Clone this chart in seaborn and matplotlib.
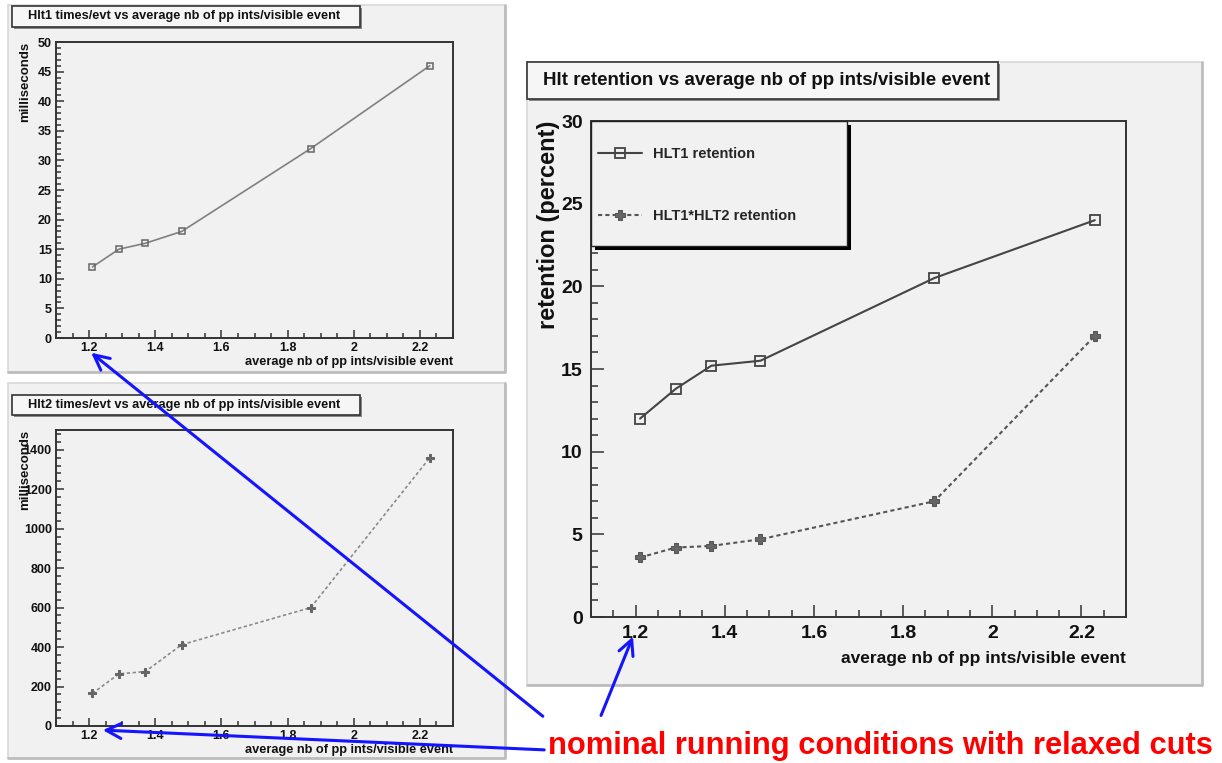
import numpy as np
import pandas as pd
import matplotlib
matplotlib.use('Agg')
import matplotlib.pyplot as plt
import seaborn as sns
from matplotlib.patches import Rectangle
from matplotlib.ticker import MultipleLocator

# data
nb_pp = [1.21, 1.29, 1.37, 1.48, 1.87, 2.23]
hlt1_ms = [12, 15, 16, 18, 32, 46]
hlt2_ms = [165, 264, 276, 412, 600, 1360]
hlt1_ret = [12.0, 13.8, 15.2, 15.5, 20.5, 24.0]
hlt12_ret = [3.6, 4.2, 4.3, 4.7, 7.0, 17.0]

xlab = 'average nb of pp ints/visible event'
title1 = 'Hlt1 times/evt vs average nb of pp ints/visible event'
title2 = 'Hlt2 times/evt vs average nb of pp ints/visible event'
title3 = 'Hlt retention vs average nb of pp ints/visible event'
note = 'nominal running conditions with relaxed cuts'

sns.set_theme(style='white')
plt.rcParams['font.family'] = ['Liberation Sans', 'DejaVu Sans']

df = pd.DataFrame({'nb': nb_pp, 'h1': hlt1_ms, 'h2': hlt2_ms,
                   'r1': hlt1_ret, 'r12': hlt12_ret})

W, H = 1222, 763
fig = plt.figure(figsize=(W / 100, H / 100), dpi=100)
fig.patch.set_facecolor('white')


def box(x0, y0, x1, y1):
    return [x0 / W, 1 - y1 / H, (x1 - x0) / W, (y1 - y0) / H]


bg = fig.add_axes([0, 0, 1, 1], zorder=0)
bg.set_xlim(0, W)
bg.set_ylim(H, 0)
bg.axis('off')
ov = fig.add_axes([0, 0, 1, 1], zorder=10)
ov.set_xlim(0, W)
ov.set_ylim(H, 0)
ov.axis('off')
ov.patch.set_visible(False)

PANEL = '#f1f1f1'
for (x0, y0, x1, y1) in [(8, 5, 505, 372), (8, 383, 505, 758), (527, 62, 1202, 685)]:
    bg.add_patch(Rectangle((x0, y0), x1 - x0, y1 - y0, facecolor=PANEL,
                           edgecolor='#d8d8d8', lw=1.2))
    bg.plot([x1, x1, x0], [y0, y1, y1], color='#bdbdbd', lw=2)


def title_box(x0, y0, x1, y1, text, size):
    ov.add_patch(Rectangle((x0 + 2, y0 + 2), x1 - x0, y1 - y0, facecolor='#888888', lw=0))
    ov.add_patch(Rectangle((x0, y0), x1 - x0, y1 - y0, facecolor='#f6f6f6',
                           edgecolor='#333333', lw=1.2))
    ov.text(x0 + 16, (y0 + y1) / 2, text, fontsize=size, fontweight='bold',
            ha='left', va='center', color='#111111')


def root_axes(rect, ymax, ymaj, ymin, fsize, pad, tlen):
    ax = fig.add_axes(box(*rect), zorder=2)
    ax.set_facecolor(PANEL)
    ax.set_xlim(1.1, 2.3)
    ax.set_ylim(0, ymax)
    ax.xaxis.set_major_locator(MultipleLocator(0.2))
    ax.xaxis.set_minor_locator(MultipleLocator(0.05))
    ax.yaxis.set_major_locator(MultipleLocator(ymaj))
    ax.yaxis.set_minor_locator(MultipleLocator(ymin))
    ax.set_xticks([1.2, 1.4, 1.6, 1.8, 2.0, 2.2])
    ax.set_xticklabels(['1.2', '1.4', '1.6', '1.8', '2', '2.2'])
    for s in ax.spines.values():
        s.set_color('#333333')
        s.set_linewidth(1.4)
    ax.tick_params(which='both', direction='in', bottom=True, left=True,
                   top=False, right=False, color='#333333', width=1.1,
                   labelsize=fsize, pad=pad)
    ax.tick_params(which='major', length=tlen)
    ax.tick_params(which='minor', length=tlen * 0.55)
    for t in ax.get_xticklabels() + ax.get_yticklabels():
        t.set_fontweight('bold')
        t.set_color('#111111')
    return ax


# top left: Hlt1 times
ax1 = root_axes((56, 42, 453, 338), 50, 5, 1, 9, 3, 6)
sns.lineplot(data=df, x='nb', y='h1', ax=ax1, color='#808080', lw=1.2,
             marker='s', markersize=5, markerfacecolor='none',
             markeredgecolor='#666666', markeredgewidth=1.1)
ax1.set_xlabel('')
ax1.set_ylabel('')
title_box(12, 6, 360, 27, title1, 9.2)
ov.text(453, 362, xlab, fontsize=9.2, fontweight='bold', ha='right', va='center', color='#111111')
ov.text(25, 42, 'milliseconds', fontsize=9.5, fontweight='bold', rotation=90,
        ha='center', va='top', color='#111111')

# bottom left: Hlt2 times
ax2 = root_axes((56, 430, 453, 726), 1500, 200, 40, 9, 3, 6)
sns.lineplot(data=df, x='nb', y='h2', ax=ax2, color='#8a8a8a', lw=1.2,
             linestyle=(0, (2, 1.5)), marker='P', markersize=5.5,
             markerfacecolor='#666666', markeredgecolor='#666666')
ax2.set_xlabel('')
ax2.set_ylabel('')
title_box(12, 395, 360, 415, title2, 9.2)
ov.text(453, 750, xlab, fontsize=9.2, fontweight='bold', ha='right', va='center', color='#111111')
ov.text(25, 430, 'milliseconds', fontsize=9.5, fontweight='bold', rotation=90,
        ha='center', va='top', color='#111111')

# right: retention
ax3 = root_axes((591, 121, 1126, 617), 30, 5, 1, 14, 6, 9)
sns.lineplot(data=df, x='nb', y='r1', ax=ax3, color='#444444', lw=1.5,
             marker='s', markersize=7, markerfacecolor='none',
             markeredgecolor='#444444', markeredgewidth=1.3, label='HLT1 retention')
sns.lineplot(data=df, x='nb', y='r12', ax=ax3, color='#555555', lw=1.5,
             linestyle=(0, (2, 1.5)), marker='P', markersize=7,
             markerfacecolor='#666666', markeredgecolor='#555555',
             label='HLT1*HLT2 retention')
ax3.set_xlabel('')
ax3.set_ylabel('')

# legend frame with ROOT-like black shadow, legend entries on top of it
lx0, ly0, lx1, ly1 = 591, 121, 847, 246
ax3.add_patch(Rectangle((lx0 + 4, ly0 + 4), lx1 - lx0, ly1 - ly0, facecolor='black',
                        lw=0, transform=ov.transData, clip_on=False, zorder=4))
ax3.add_patch(Rectangle((lx0, ly0), lx1 - lx0, ly1 - ly0, facecolor=PANEL,
                        edgecolor='#222222', lw=1.0, transform=ov.transData,
                        clip_on=False, zorder=4.1))
leg = ax3.legend(loc='center left', bbox_to_anchor=(0.013, (617 - 185) / 496),
                 frameon=False, prop={'weight': 'bold', 'size': 10.5},
                 handlelength=3.05, handletextpad=0.7,
                 labelspacing=3.3, borderpad=0, borderaxespad=0)
leg.set_zorder(5)
title_box(527, 62, 998, 99, title3, 13.5)
ov.text(1126, 658, xlab, fontsize=12.5, fontweight='bold',
        ha='right', va='center', color='#111111')
ov.text(548, 121, 'retention (percent)', fontsize=17, fontweight='bold',
        rotation=90, ha='center', va='top', color='#111111')

# blue arrows and red note
arrow = dict(arrowstyle='->,head_length=0.9,head_width=0.45', color='#1414ff', lw=2.2)
ov.annotate('', xy=(89, 351), xytext=(545, 718), arrowprops=arrow)
ov.annotate('', xy=(634, 634), xytext=(600, 718), arrowprops=arrow)
ov.annotate('', xy=(100, 730), xytext=(547, 750), arrowprops=arrow)
ov.text(548, 746, note, fontsize=22.2, fontweight='bold',
        color='#ff0000', ha='left', va='center')

fig.savefig('out.png', dpi=100, facecolor='white')
